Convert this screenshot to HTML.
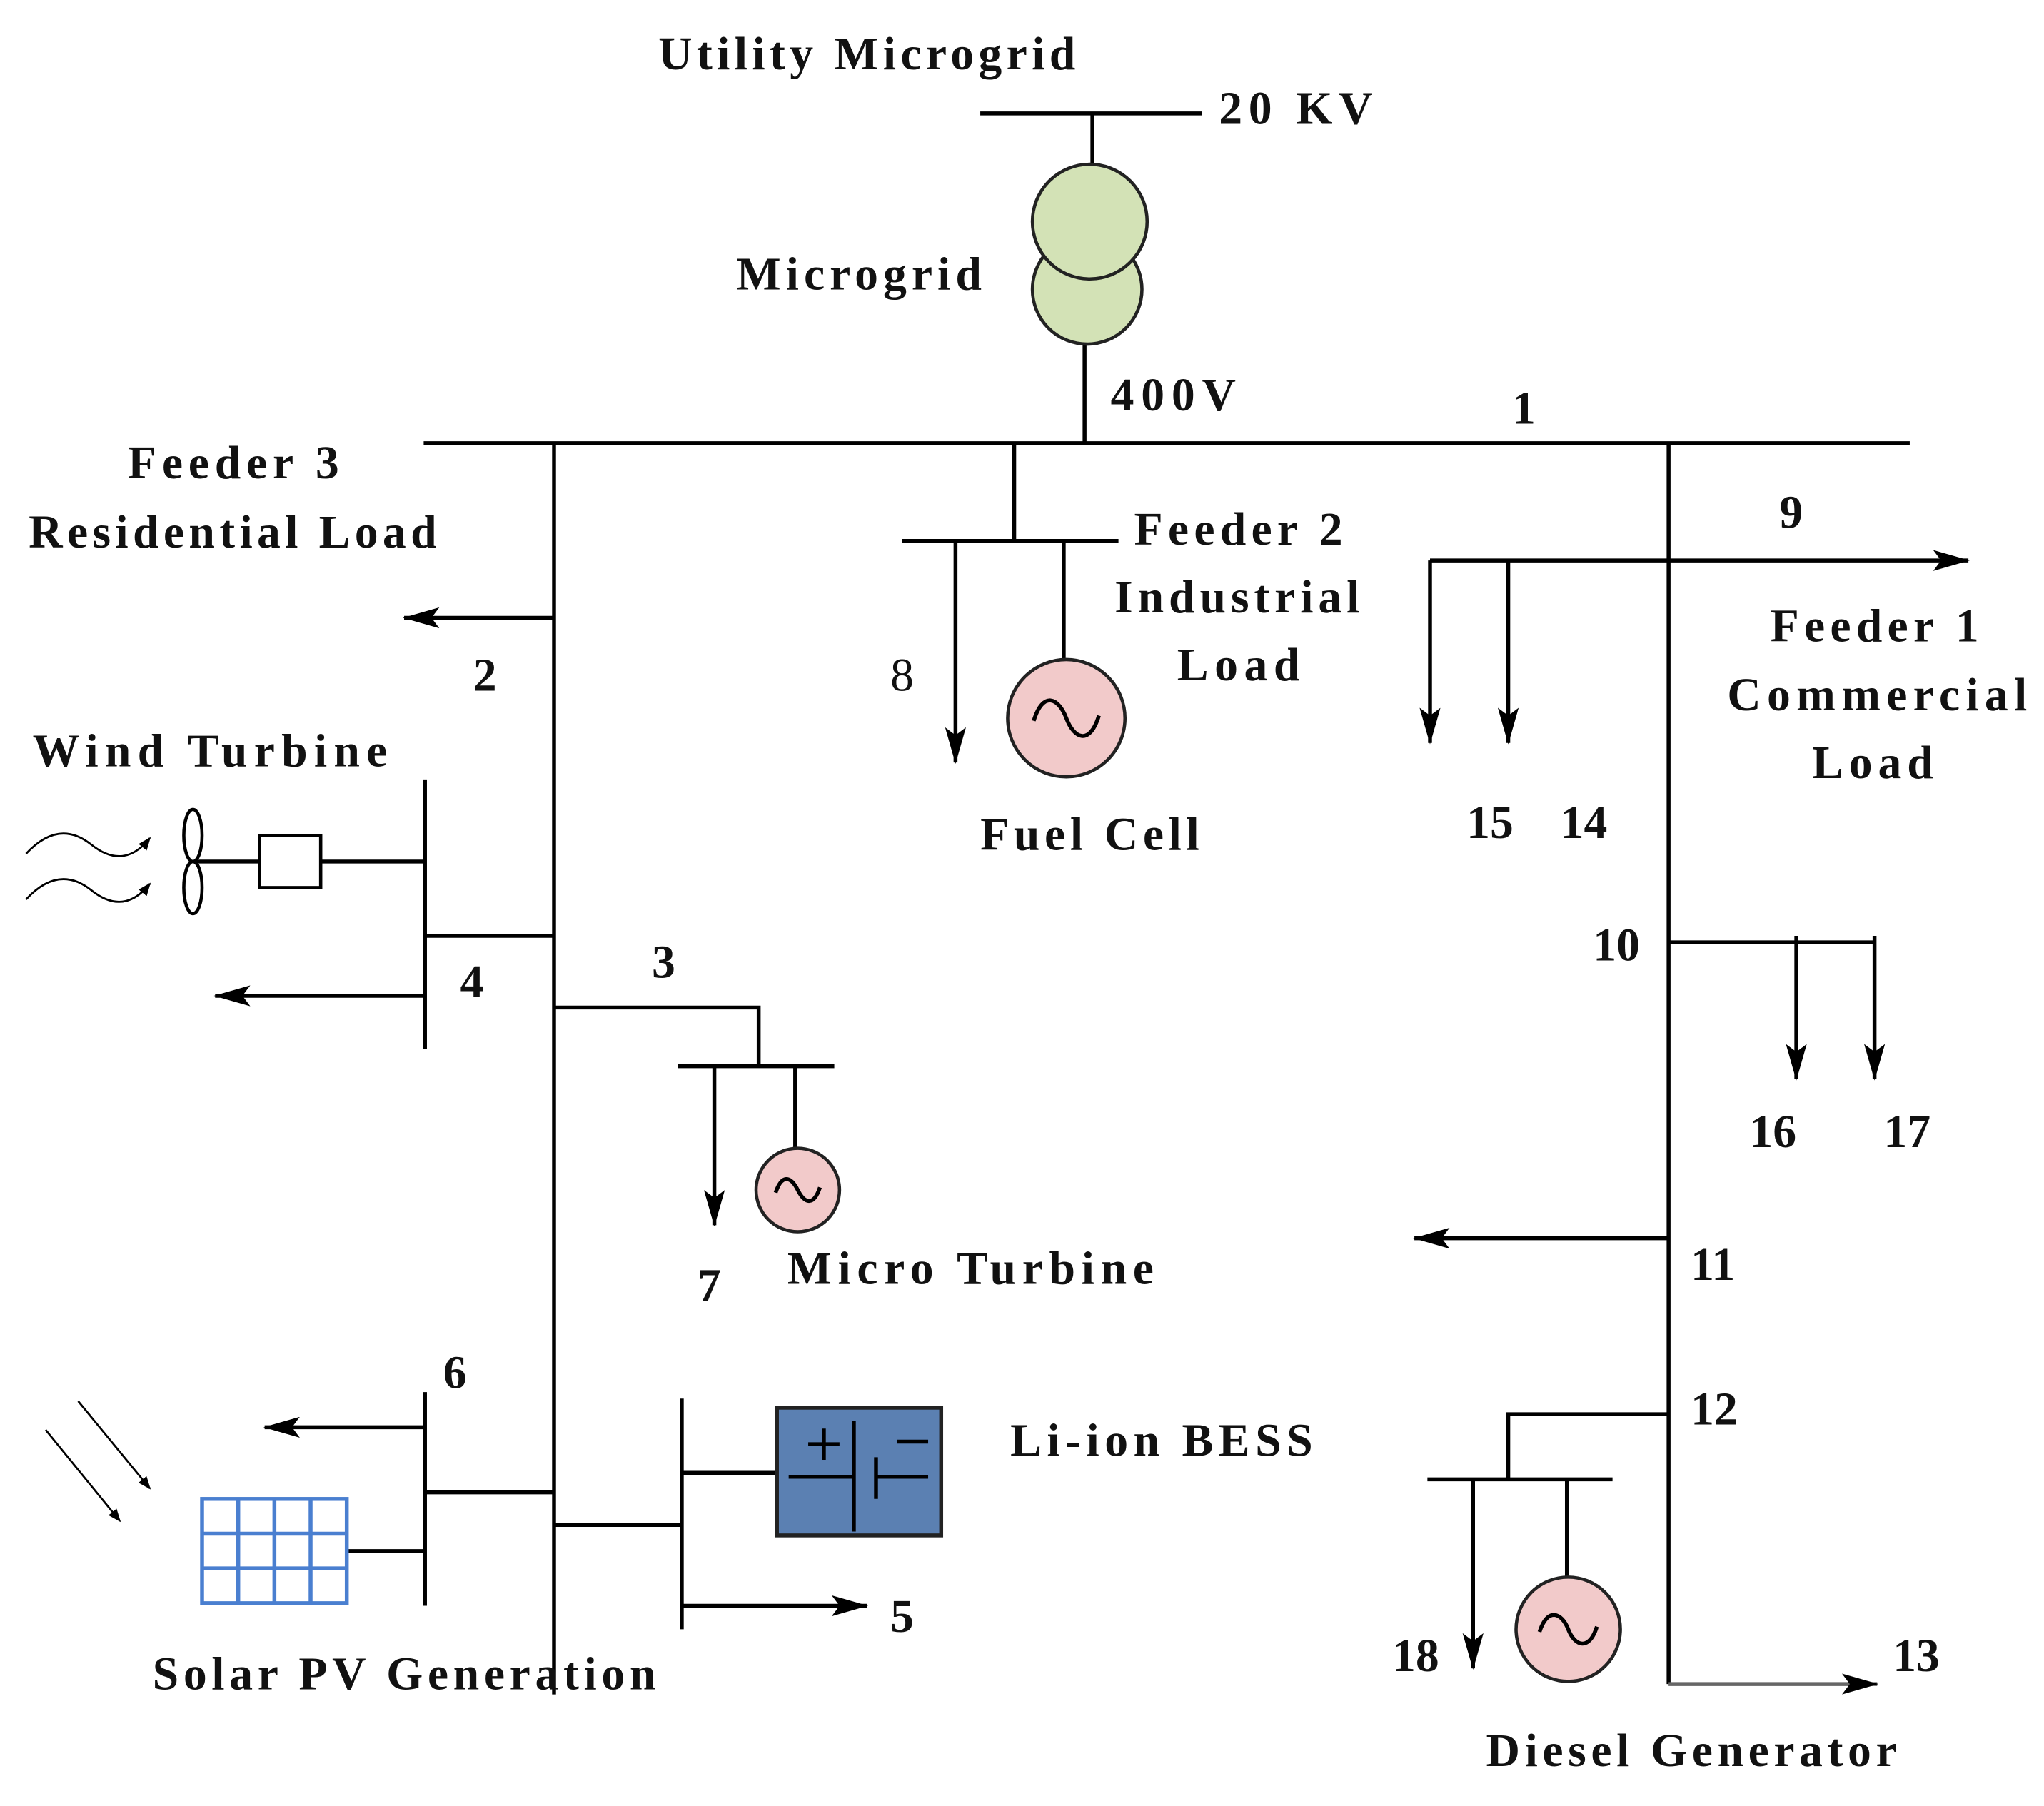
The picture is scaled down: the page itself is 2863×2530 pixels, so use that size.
<!DOCTYPE html>
<html><head><meta charset="utf-8"><style>
html,body{margin:0;padding:0;background:#fff;}
svg{display:block;}
text{font-family:"Liberation Serif",serif;font-weight:bold;font-size:36px;fill:#111;}
</style></head><body>
<svg width="2863" height="2530" viewBox="0 0 1568 1385.6" xmlns="http://www.w3.org/2000/svg">
<defs>
<marker id="a" markerWidth="10" markerHeight="8" refX="9" refY="4" orient="auto" markerUnits="userSpaceOnUse" viewBox="0 0 10 8">
<path d="M0,0 L10,4 L0,8 Z" fill="#000"/></marker>
<marker id="ab" markerWidth="28" markerHeight="16" refX="27" refY="8" orient="auto" markerUnits="userSpaceOnUse">
<path d="M0,0 L28,8 L0,16 L6,8 Z" fill="#000"/></marker>
</defs>
<g stroke="#000" stroke-width="3" fill="none">
<line x1="752" y1="87" x2="922" y2="87"/>
<line x1="838" y1="87" x2="838" y2="130"/>
<line x1="832" y1="262" x2="832" y2="340"/>
<line x1="325" y1="340" x2="1465" y2="340"/>
<line x1="425" y1="340" x2="425" y2="1300"/>
<line x1="425" y1="474" x2="310" y2="474" marker-end="url(#ab)"/>
<line x1="326" y1="598" x2="326" y2="805"/>
<line x1="326" y1="718" x2="425" y2="718"/>
<line x1="246" y1="661" x2="326" y2="661"/>
<rect x="199" y="641" width="47" height="40" stroke-width="2.5"/>
<line x1="150" y1="661" x2="199" y2="661"/>
<ellipse cx="148" cy="641" rx="7" ry="20" stroke-width="2.5"/>
<ellipse cx="148" cy="681" rx="7" ry="20" stroke-width="2.5"/>
<path d="M20,655 Q45,628 70,648 T115,643" stroke-width="1.5" marker-end="url(#a)"/>
<path d="M20,690 Q45,663 70,683 T115,678" stroke-width="1.5" marker-end="url(#a)"/>
<line x1="326" y1="764" x2="165" y2="764" marker-end="url(#ab)"/>
<polyline points="425,773 582,773 582,818"/>
<line x1="520" y1="818" x2="640" y2="818"/>
<line x1="548" y1="818" x2="548" y2="940" marker-end="url(#ab)"/>
<line x1="610" y1="818" x2="610" y2="882"/>
<line x1="778" y1="340" x2="778" y2="415"/>
<line x1="692" y1="415" x2="858" y2="415"/>
<line x1="733" y1="415" x2="733" y2="585" marker-end="url(#ab)"/>
<line x1="816" y1="415" x2="816" y2="507"/>
<line x1="1280" y1="340" x2="1280" y2="1292"/>
<line x1="1280" y1="1292" x2="1440" y2="1292" stroke="#666" marker-end="url(#ab)"/>
<line x1="1097" y1="430" x2="1510" y2="430" marker-end="url(#ab)"/>
<line x1="1097" y1="430" x2="1097" y2="570" marker-end="url(#ab)"/>
<line x1="1157" y1="430" x2="1157" y2="570" marker-end="url(#ab)"/>
<line x1="1280" y1="723" x2="1438" y2="723"/>
<line x1="1378" y1="718" x2="1378" y2="828" marker-end="url(#ab)"/>
<line x1="1438" y1="718" x2="1438" y2="828" marker-end="url(#ab)"/>
<line x1="1280" y1="950" x2="1085" y2="950" marker-end="url(#ab)"/>
<polyline points="1280,1085 1157,1085 1157,1135"/>
<line x1="1095" y1="1135" x2="1237" y2="1135"/>
<line x1="1130" y1="1135" x2="1130" y2="1280" marker-end="url(#ab)"/>
<line x1="1202" y1="1135" x2="1202" y2="1212"/>
<line x1="326" y1="1068" x2="326" y2="1232"/>
<line x1="326" y1="1145" x2="425" y2="1145"/>
<line x1="326" y1="1095" x2="203" y2="1095" marker-end="url(#ab)"/>
<line x1="266" y1="1190" x2="326" y2="1190"/>
<line x1="60" y1="1075" x2="115" y2="1142" stroke-width="1.5" marker-end="url(#a)"/>
<line x1="35" y1="1097" x2="92" y2="1167" stroke-width="1.5" marker-end="url(#a)"/>
<line x1="425" y1="1170" x2="523" y2="1170"/>
<line x1="523" y1="1073" x2="523" y2="1250"/>
<line x1="523" y1="1130" x2="596" y2="1130"/>
<line x1="523" y1="1232" x2="665" y2="1232" marker-end="url(#ab)"/>
</g>
<g stroke="#4a7fd0" stroke-width="3" fill="#fff">
<rect x="155" y="1150" width="111" height="80"/>
<line x1="182.75" y1="1150" x2="182.75" y2="1230"/>
<line x1="210.5" y1="1150" x2="210.5" y2="1230"/>
<line x1="238.25" y1="1150" x2="238.25" y2="1230"/>
<line x1="155" y1="1176.7" x2="266" y2="1176.7"/>
<line x1="155" y1="1203.3" x2="266" y2="1203.3"/>
</g>
<rect x="596" y="1080" width="126" height="98" fill="#5b80b2" stroke="#222" stroke-width="3"/>
<g stroke="#000" stroke-width="3" fill="none">
<line x1="655" y1="1090" x2="655" y2="1175"/>
<line x1="672" y1="1118" x2="672" y2="1150"/>
<line x1="605" y1="1133" x2="655" y2="1133"/>
<line x1="672" y1="1133" x2="712" y2="1133"/>
<line x1="620" y1="1108" x2="644" y2="1108"/><line x1="632" y1="1096" x2="632" y2="1120"/>
<line x1="688" y1="1106" x2="712" y2="1106"/>
</g>
<circle cx="834" cy="222" r="42" fill="#d3e2b6" stroke="#222" stroke-width="2.5"/>
<circle cx="836" cy="170" r="44" fill="#d3e2b6" stroke="#222" stroke-width="2.5"/>
<g stroke="#222" stroke-width="2.5" fill="#f2caca">
<circle cx="818" cy="551" r="45"/>
<circle cx="612" cy="913" r="32"/>
<circle cx="1203" cy="1250" r="40"/>
</g>
<g stroke="#000" stroke-width="3" fill="none">
<path d="M793,553 C800,530 812,535 818,551 C824,567 836,572 843,549"/>
<path d="M595,915 C600,900 607,903 612,913 C617,923 624,926 629,911"/>
<path d="M1181,1252 C1187,1233 1198,1237 1203,1250 C1208,1263 1219,1267 1225,1248"/>
</g>
<text x="505" y="53" textLength="320" lengthAdjust="spacing">Utility Microgrid</text>
<text x="935" y="95" textLength="118" lengthAdjust="spacing">20 KV</text>
<text x="565" y="222" textLength="188" lengthAdjust="spacing">Microgrid</text>
<text x="852" y="315" textLength="96" lengthAdjust="spacing">400V</text>
<text x="1160" y="325">1</text>
<text x="98" y="367" textLength="162" lengthAdjust="spacing">Feeder 3</text>
<text x="22" y="420" textLength="313" lengthAdjust="spacing">Residential Load</text>
<text x="363" y="530">2</text>
<text x="25" y="588" textLength="272" lengthAdjust="spacing">Wind Turbine</text>
<text x="353" y="765">4</text>
<text x="500" y="750">3</text>
<text x="535" y="998">7</text>
<text x="604" y="985" textLength="281" lengthAdjust="spacing">Micro Turbine</text>
<text x="683" y="530" style="font-weight:normal">8</text>
<text x="870" y="418" textLength="160" lengthAdjust="spacing">Feeder 2</text>
<text x="855" y="470" textLength="188" lengthAdjust="spacing">Industrial</text>
<text x="903" y="522" textLength="94" lengthAdjust="spacing">Load</text>
<text x="752" y="652" textLength="168" lengthAdjust="spacing">Fuel Cell</text>
<text x="1365" y="405">9</text>
<text x="1125" y="643">15</text>
<text x="1197" y="643">14</text>
<text x="1358" y="492" textLength="160" lengthAdjust="spacing">Feeder 1</text>
<text x="1325" y="545" textLength="230" lengthAdjust="spacing">Commercial</text>
<text x="1390" y="597" textLength="93" lengthAdjust="spacing">Load</text>
<text x="1222" y="737">10</text>
<text x="1342" y="880">16</text>
<text x="1445" y="880">17</text>
<text x="1297" y="982">11</text>
<text x="1297" y="1093">12</text>
<text x="1068" y="1282">18</text>
<text x="1452" y="1282">13</text>
<text x="1140" y="1355" textLength="315" lengthAdjust="spacing">Diesel Generator</text>
<text x="340" y="1065">6</text>
<text x="117" y="1296" textLength="386" lengthAdjust="spacing">Solar PV Generation</text>
<text x="683" y="1252">5</text>
<text x="775" y="1117" textLength="232" lengthAdjust="spacing">Li-ion BESS</text>
</svg>
</body></html>
